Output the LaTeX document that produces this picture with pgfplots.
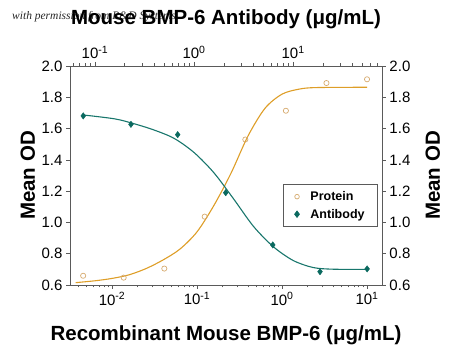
\documentclass[border=0pt]{standalone}
\usepackage{pgfplots}
\pgfplotsset{compat=1.18}
\usepackage{fontspec}
\setmainfont{Liberation Sans}
\newfontfamily\wmfont{Liberation Serif}
\definecolor{protline}{RGB}{222,158,40}
\definecolor{protmark}{RGB}{214,170,110}
\definecolor{abline}{RGB}{24,118,108}
\definecolor{abmark}{RGB}{10,105,95}
\definecolor{spine}{RGB}{90,90,90}

\pgfplotstableread{
x y
0.00457 0.659
0.0137 0.647
0.0412 0.705
0.123 1.037
0.370 1.530
1.11 1.714
3.33 1.891
10 1.915
}\protpts

\pgfplotstableread{
x y
0.00372 0.615
0.00631 0.627
0.01 0.642
0.01585 0.665
0.02512 0.705
0.03981 0.760
0.0631 0.830
0.1 0.940
0.1585 1.110
0.2512 1.315
0.3981 1.553
0.631 1.730
1 1.820
1.585 1.852
2.512 1.862
10.05 1.864
}\protfit

\pgfplotstableread{
x y
0.0762 1.681
0.231 1.627
0.684 1.561
2.09 1.190
6.24 0.856
18.7 0.685
55.9 0.703
}\abpts

\pgfplotstableread{
x y
0.0759 1.687
0.1585 1.662
0.2512 1.630
0.3981 1.590
0.631 1.537
1 1.447
1.585 1.318
2.512 1.150
3.981 0.975
6.31 0.845
10 0.757
15.85 0.712
25.12 0.701
55.5 0.700
}\abfit

\pgfplotsset{
  mybase/.style={
    width=312pt, height=219pt, scale only axis,
    ymin=0.6, ymax=2.0,
    ytick={0.6,0.8,...,2.01},
    /pgf/number format/assume math mode=true,
    yticklabel style={/pgf/number format/fixed,/pgf/number format/fixed zerofill,/pgf/number format/precision=1},
    tick label style={font=\fontsize{15}{17}\selectfont},
    label style={font=\fontsize{20.5}{24}\selectfont\bfseries},
    tick align=outside,
    major tick length=4pt, minor tick length=2.5pt,
    tick style={spine, line width=0.6pt},
    axis line style={spine, line width=0.8pt},
    clip=false,
  }
}

\begin{document}
\begin{tikzpicture}
\path[use as bounding box] (-70pt,-67pt) rectangle (380pt,285pt);
\node[anchor=base west, font=\wmfont\itshape\fontsize{11.5}{13}\selectfont, text=black!85, inner sep=0pt] at (-58pt,265pt) {with permission from R\&D Systems};

\begin{axis}[xmode=log, log basis x=10, mybase,
  xmin=0.0032, xmax=15,
  axis x line*=bottom, axis y line*=left,
  xtick={0.01,0.1,1,10},
  xticklabels={10\textsuperscript{-2},10\textsuperscript{-1},10\textsuperscript{0},10\textsuperscript{1}},
  minor xtick={0.004,0.005,0.006,0.007,0.008,0.009,0.02,0.03,0.04,0.05,0.06,0.07,0.08,0.09,0.2,0.3,0.4,0.5,0.6,0.7,0.8,0.9,2,3,4,5,6,7,8,9},
  xlabel={Recombinant Mouse BMP-6 (μg/mL)},
  xlabel style={at={(axis description cs:0.5,-0.228)}, anchor=center},
  ylabel={Mean OD},
  ylabel style={at={(axis description cs:-0.135,0.5)}, anchor=center},
]
\addplot[protline, line width=1.1pt, smooth, tension=0.5] table[x=x,y=y] {\protfit};
\addplot[only marks, mark=o, mark size=2.6pt, mark options={protmark, line width=0.7pt}] table[x=x,y=y] {\protpts};
\end{axis}

\begin{axis}[xmode=log, log basis x=10, mybase,
  xmin=0.056, xmax=79,
  axis x line*=top, axis y line*=right,
  xtick={0.1,1,10},
  xticklabels={10\textsuperscript{-1},10\textsuperscript{0},10\textsuperscript{1}},
  minor xtick={0.06,0.07,0.08,0.09,0.2,0.3,0.4,0.5,0.6,0.7,0.8,0.9,2,3,4,5,6,7,8,9,20,30,40,50,60,70},
  xlabel={Mouse BMP-6 Antibody (μg/mL)},
  xlabel style={at={(axis description cs:0.5,1.215)}, anchor=center},
  ylabel={Mean OD},
  ylabel style={at={(axis description cs:1.163,0.5)}, anchor=center},
  legend style={at={(axis description cs:0.987,0.461)}, anchor=north east,
    draw=spine, line width=0.7pt, font=\fontsize{12.5}{14}\selectfont\bfseries,
    inner xsep=11pt, inner ysep=5pt, row sep=3pt,
    /tikz/every odd column/.append style={column sep=9pt}},
  legend cell align=left,
]
\addlegendimage{only marks, mark=o, mark size=2.3pt, mark options={protmark, line width=0.7pt}}
\addlegendentry{Protein}
\addplot[abline, line width=1.1pt, smooth, tension=0.5, forget plot] table[x=x,y=y] {\abfit};
\addplot[only marks, mark=diamond*, mark size=3.2pt, mark options={abmark, fill=abmark}] table[x=x,y=y] {\abpts};
\addlegendentry{Antibody}
\end{axis}
\end{tikzpicture}
\end{document}
